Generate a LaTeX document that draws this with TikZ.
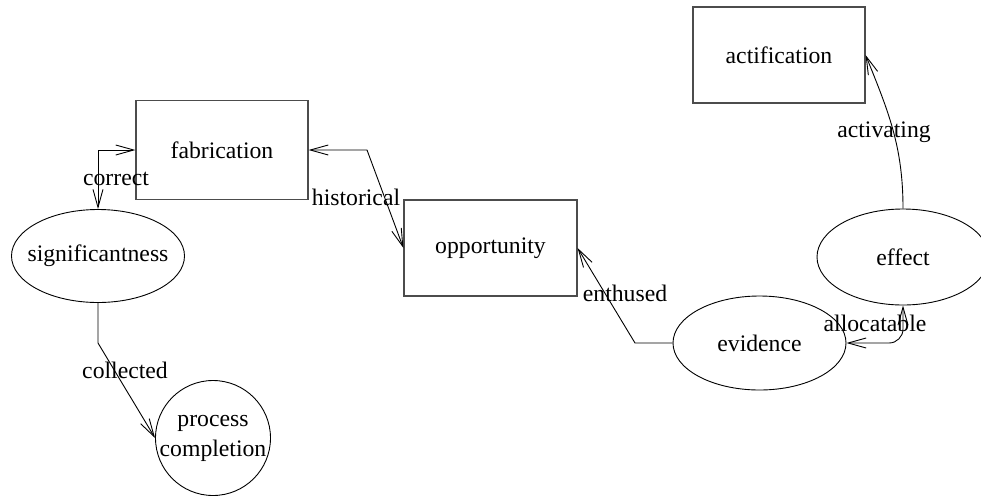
\documentclass[tikz,border=0pt]{standalone}
\usepackage{fontspec}
\setmainfont{Liberation Serif}
\usetikzlibrary{shapes.geometric,arrows.meta}
\begin{document}
\begin{tikzpicture}[x=1pt,y=-1pt,
  every node/.style={font=\fontsize{23.7}{30}\selectfont},
  boxnode/.style={draw=black!70,line width=1.2pt,inner sep=0pt},
  ellnode/.style={ellipse,draw,line width=0.9pt,inner sep=0pt},
  lbl/.style={inner sep=0pt},
  conn/.style={line width=0.9pt,-{Straight Barb[length=18pt,width=10pt]}},
  bconn/.style={line width=0.9pt,{Straight Barb[length=18pt,width=10pt]}-{Straight Barb[length=18pt,width=10pt]}}]
\useasboundingbox (0,0) rectangle (981,498);
\clip (0,0) rectangle (981,498);
% nodes
\node[boxnode,minimum width=172pt,minimum height=99pt] (fab) at (222,150) {fabrication};
\node[boxnode,minimum width=173pt,minimum height=96pt] (opp) at (490.5,248) {opportunity};
\node[boxnode,minimum width=172pt,minimum height=96pt] (act) at (779,55) {actification};
\node[ellnode,minimum width=173pt,minimum height=93pt] (sig) at (98,256) {\makebox[0pt]{significantness}};
\node[ellnode,minimum width=173pt,minimum height=94pt] (evi) at (759.5,343) {\makebox[0pt]{evidence}};
\node[ellnode,minimum width=172pt,minimum height=96pt] (eff) at (903,257) {\makebox[0pt]{effect}};
\node[circle,draw,line width=0.9pt,inner sep=0pt,minimum size=115pt,align=center] (proc) at (213,438)
  {\makebox[0pt]{process}\\\makebox[0pt]{completion}};
% connectors
\draw[bconn] (fab.west) -| (sig.north);
\draw[bconn] (fab.east) -- (367,150) -- (opp.west);
\draw[conn] (evi.west) -- (635,343) -- (opp.east);
\draw[bconn,rounded corners=14pt] (eff.south) |- (evi.east);
\draw[conn] (eff.north) to[out=90,in=-68] (act.east);
\draw[conn] (sig.south) -- (98,343) -- (proc.west);
% labels
\node[lbl] (lcorrect) at (116,179) {correct};
\node[lbl] (lhist) at (356,197) {historical};
\node[lbl] (lenth) at (625,293) {enthused};
\node[lbl] (lalloc) at (875,323) {allocatable};
\node[lbl] (lact) at (884,132) {activating};
\node[lbl] (lcoll) at (125,370) {collected};
\end{tikzpicture}
\end{document}
